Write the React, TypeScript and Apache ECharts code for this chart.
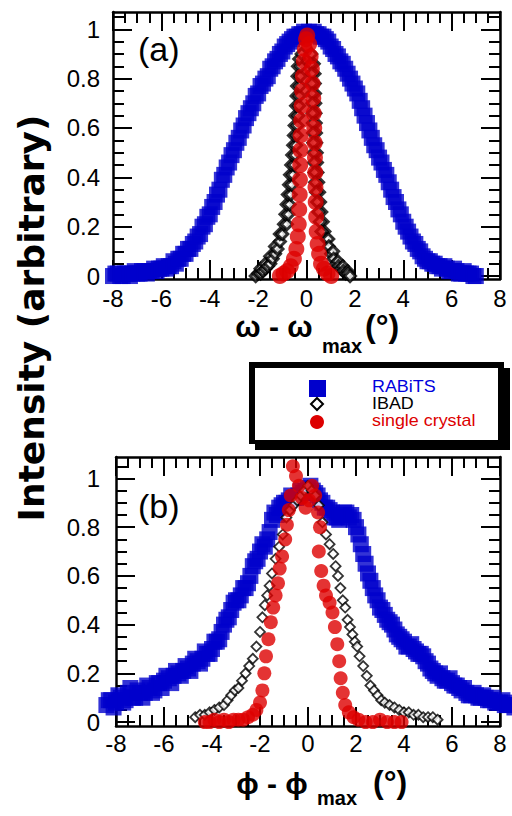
import React, { useEffect, useRef } from "react";
import * as echarts from "echarts";

// ---------- tick values ----------
const yMajorTicks = [0, 0.2, 0.4, 0.6, 0.8, 1];
const yMinorTicks = [0, 0.05, 0.1, 0.15, 0.2, 0.25, 0.3, 0.35, 0.4, 0.45, 0.5, 0.55, 0.6, 0.65, 0.7, 0.75, 0.8, 0.85, 0.9, 0.95, 1, 1.05];

// ---------- (a) omega scans ----------
const omegaRabits: [number, number][] = [
  [-8.0, 0.0], [-7.9, 0.01], [-7.8, 0.01], [-7.7, 0.0], [-7.6, 0.0], [-7.5, 0.01], [-7.4, 0.01], [-7.3, 0.0],
  [-7.2, 0.01], [-7.1, 0.02], [-7.0, 0.01], [-6.9, 0.01], [-6.8, 0.02], [-6.7, 0.02], [-6.6, 0.01], [-6.5, 0.02],
  [-6.4, 0.02], [-6.3, 0.03], [-6.2, 0.02], [-6.1, 0.03], [-6.0, 0.03], [-5.9, 0.04], [-5.8, 0.03], [-5.7, 0.04],
  [-5.6, 0.04], [-5.5, 0.06], [-5.4, 0.05], [-5.3, 0.07], [-5.2, 0.07], [-5.1, 0.09], [-5.0, 0.09], [-4.9, 0.11],
  [-4.8, 0.11], [-4.7, 0.13], [-4.6, 0.14], [-4.5, 0.16], [-4.4, 0.17], [-4.3, 0.2], [-4.2, 0.21], [-4.1, 0.24],
  [-4.0, 0.25], [-3.9, 0.28], [-3.8, 0.3], [-3.7, 0.33], [-3.6, 0.35], [-3.5, 0.39], [-3.4, 0.41], [-3.3, 0.44],
  [-3.2, 0.46], [-3.1, 0.49], [-3.0, 0.51], [-2.9, 0.54], [-2.8, 0.56], [-2.7, 0.59], [-2.6, 0.61], [-2.5, 0.64],
  [-2.4, 0.66], [-2.3, 0.68], [-2.2, 0.7], [-2.1, 0.73], [-2.0, 0.74], [-1.9, 0.77], [-1.8, 0.78], [-1.7, 0.8],
  [-1.6, 0.81], [-1.5, 0.84], [-1.4, 0.85], [-1.3, 0.87], [-1.2, 0.88], [-1.1, 0.9], [-1.0, 0.91], [-0.9, 0.93],
  [-0.8, 0.94], [-0.7, 0.95], [-0.6, 0.96], [-0.5, 0.97], [-0.4, 0.97], [-0.3, 0.98], [-0.2, 0.98], [-0.1, 0.99],
  [0.0, 0.98], [0.1, 0.99], [0.2, 0.98], [0.3, 0.99], [0.4, 0.98], [0.5, 0.98], [0.6, 0.97], [0.7, 0.97],
  [0.8, 0.96], [0.9, 0.95], [1.0, 0.93], [1.1, 0.92], [1.2, 0.9], [1.3, 0.89], [1.4, 0.87], [1.5, 0.86],
  [1.6, 0.84], [1.7, 0.82], [1.8, 0.8], [1.9, 0.78], [2.0, 0.76], [2.1, 0.74], [2.2, 0.71], [2.3, 0.68],
  [2.4, 0.65], [2.5, 0.62], [2.6, 0.59], [2.7, 0.56], [2.8, 0.53], [2.9, 0.51], [3.0, 0.48], [3.1, 0.46],
  [3.2, 0.43], [3.3, 0.41], [3.4, 0.38], [3.5, 0.35], [3.6, 0.32], [3.7, 0.3], [3.8, 0.27], [3.9, 0.25],
  [4.0, 0.22], [4.1, 0.2], [4.2, 0.18], [4.3, 0.16], [4.4, 0.14], [4.5, 0.13], [4.6, 0.11], [4.7, 0.1],
  [4.8, 0.08], [4.9, 0.07], [5.0, 0.06], [5.1, 0.06], [5.2, 0.05], [5.3, 0.05], [5.4, 0.04], [5.5, 0.04],
  [5.6, 0.03], [5.7, 0.04], [5.8, 0.03], [5.9, 0.02], [6.0, 0.02], [6.1, 0.03], [6.2, 0.02], [6.3, 0.01],
  [6.4, 0.01], [6.5, 0.02], [6.6, 0.01], [6.7, 0.01], [6.8, 0.01], [6.9, 0.0], [7.0, 0.0],
];

const omegaIbad: [number, number][] = [
  [-2.1, 0.0], [-2.0, 0.01], [-1.9, 0.01], [-1.9, 0.03], [-1.8, 0.02], [-1.7, 0.03], [-1.7, 0.05], [-1.6, 0.04],
  [-1.5, 0.05], [-1.5, 0.08], [-1.4, 0.07], [-1.3, 0.09], [-1.3, 0.12], [-1.2, 0.11], [-1.1, 0.14], [-1.1, 0.17],
  [-1.0, 0.17], [-0.93, 0.21], [-0.81, 0.21], [-0.87, 0.25], [-0.75, 0.25], [-0.82, 0.29], [-0.7, 0.29],
  [-0.77, 0.33], [-0.65, 0.33], [-0.72, 0.37], [-0.6, 0.37], [-0.68, 0.41], [-0.56, 0.41], [-0.63, 0.45],
  [-0.51, 0.45], [-0.59, 0.49], [-0.47, 0.49], [-0.55, 0.53], [-0.43, 0.53], [-0.52, 0.57], [-0.4, 0.57],
  [-0.49, 0.61], [-0.37, 0.61], [-0.46, 0.65], [-0.34, 0.65], [-0.43, 0.69], [-0.31, 0.69], [-0.41, 0.73],
  [-0.29, 0.73], [-0.39, 0.77], [-0.27, 0.77], [-0.37, 0.81], [-0.25, 0.81], [-0.35, 0.85], [-0.23, 0.85],
  [-0.3, 0.88], [-0.2, 0.9],
  [0.2, 0.9], [0.3, 0.86], [0.18, 0.86], [0.33, 0.82], [0.21, 0.82], [0.34, 0.78], [0.22, 0.78], [0.35, 0.74],
  [0.23, 0.74], [0.36, 0.7], [0.24, 0.7], [0.37, 0.66], [0.25, 0.66], [0.38, 0.62], [0.26, 0.62], [0.39, 0.58],
  [0.27, 0.58], [0.4, 0.54], [0.28, 0.54], [0.42, 0.5], [0.3, 0.5], [0.43, 0.46], [0.31, 0.46], [0.45, 0.42],
  [0.33, 0.42], [0.48, 0.38], [0.36, 0.38], [0.52, 0.34], [0.4, 0.34], [0.56, 0.3], [0.44, 0.3], [0.61, 0.26],
  [0.49, 0.26], [0.67, 0.22], [0.55, 0.22], [0.74, 0.18], [0.62, 0.18], [0.82, 0.15], [0.9, 0.15], [0.92, 0.12],
  [1.02, 0.09], [1.1, 0.1], [1.12, 0.07], [1.22, 0.05], [1.3, 0.06], [1.32, 0.04], [1.42, 0.03], [1.5, 0.04],
  [1.52, 0.02], [1.62, 0.01], [1.7, 0.02], [1.72, 0.01], [1.8, 0.0],
];

const omegaCrystal: [number, number][] = [
  [-1.1, 0.0], [-0.95, 0.01], [-0.8, 0.02], [-0.65, 0.04], [-0.52, 0.07], [-0.42, 0.11], [-0.36, 0.16], [-0.32, 0.21],
  [-0.3, 0.27], [-0.28, 0.33], [-0.27, 0.39], [-0.26, 0.45], [-0.25, 0.51], [-0.24, 0.57], [-0.22, 0.63], [-0.2, 0.69],
  [-0.18, 0.75], [-0.15, 0.81], [-0.11, 0.87], [-0.07, 0.92], [-0.02, 0.96], [0.03, 0.975],
  [0.11, 0.94], [0.17, 0.89], [0.22, 0.84], [0.25, 0.78], [0.28, 0.72], [0.3, 0.66], [0.32, 0.6], [0.34, 0.54],
  [0.35, 0.48], [0.36, 0.42], [0.37, 0.36], [0.38, 0.3], [0.4, 0.24], [0.42, 0.18], [0.46, 0.13], [0.52, 0.09],
  [0.6, 0.05], [0.72, 0.03], [0.87, 0.01], [1.02, 0.0],
];

// ---------- (b) phi scans ----------
const phiRabits: [number, number][] = [
  [-8.4, 0.07], [-8.3, 0.09], [-8.2, 0.09], [-8.1, 0.06], [-8.0, 0.08], [-7.9, 0.11], [-7.8, 0.1], [-7.7, 0.08],
  [-7.6, 0.09], [-7.5, 0.12], [-7.4, 0.14], [-7.3, 0.1], [-7.2, 0.1], [-7.1, 0.13], [-7.0, 0.12], [-6.9, 0.1],
  [-6.8, 0.12], [-6.7, 0.15], [-6.6, 0.14], [-6.5, 0.12], [-6.4, 0.13], [-6.3, 0.16], [-6.2, 0.16], [-6.1, 0.14],
  [-6.0, 0.17], [-5.9, 0.19], [-5.8, 0.18], [-5.7, 0.16], [-5.6, 0.19], [-5.5, 0.21], [-5.4, 0.2], [-5.3, 0.19],
  [-5.2, 0.21], [-5.1, 0.23], [-5.0, 0.22], [-4.9, 0.21], [-4.8, 0.24], [-4.7, 0.26], [-4.6, 0.25], [-4.5, 0.24],
  [-4.4, 0.26], [-4.3, 0.29], [-4.2, 0.28], [-4.1, 0.28], [-4.0, 0.3], [-3.9, 0.33], [-3.8, 0.33], [-3.7, 0.34],
  [-3.6, 0.37], [-3.5, 0.4], [-3.4, 0.42], [-3.3, 0.43], [-3.2, 0.46], [-3.1, 0.49], [-3.0, 0.5], [-2.9, 0.5],
  [-2.8, 0.52], [-2.7, 0.55], [-2.6, 0.55], [-2.5, 0.57], [-2.4, 0.6], [-2.3, 0.64], [-2.2, 0.66], [-2.1, 0.67],
  [-2.0, 0.7], [-1.9, 0.73], [-1.8, 0.72], [-1.7, 0.75], [-1.6, 0.78], [-1.5, 0.83], [-1.4, 0.86], [-1.3, 0.85],
  [-1.2, 0.88], [-1.1, 0.89], [-1.0, 0.9], [-0.9, 0.9], [-0.8, 0.91], [-0.7, 0.93], [-0.6, 0.92], [-0.5, 0.92],
  [-0.4, 0.93], [-0.3, 0.95], [-0.2, 0.94], [-0.1, 0.95], [0.0, 0.96], [0.1, 0.97], [0.2, 0.95], [0.3, 0.94],
  [0.4, 0.93], [0.5, 0.91], [0.6, 0.9], [0.7, 0.88], [0.8, 0.88], [0.9, 0.87], [1.0, 0.86], [1.1, 0.84],
  [1.2, 0.84], [1.3, 0.83], [1.4, 0.85], [1.5, 0.86], [1.6, 0.86], [1.7, 0.84], [1.8, 0.85], [1.9, 0.83],
  [2.0, 0.8], [2.1, 0.77], [2.2, 0.73], [2.3, 0.69], [2.4, 0.65], [2.5, 0.61], [2.6, 0.58], [2.7, 0.55],
  [2.8, 0.52], [2.9, 0.5], [3.0, 0.47], [3.1, 0.46], [3.2, 0.44], [3.3, 0.42], [3.4, 0.41], [3.5, 0.4],
  [3.6, 0.38], [3.7, 0.36], [3.8, 0.35], [3.9, 0.34], [4.0, 0.33], [4.1, 0.31], [4.2, 0.31], [4.3, 0.32],
  [4.4, 0.3], [4.5, 0.29], [4.6, 0.28], [4.7, 0.28], [4.8, 0.27], [4.9, 0.25], [5.0, 0.24], [5.1, 0.22],
  [5.2, 0.21], [5.3, 0.2], [5.4, 0.19], [5.5, 0.2], [5.6, 0.18], [5.7, 0.17], [5.8, 0.17], [5.9, 0.18],
  [6.0, 0.16], [6.1, 0.15], [6.2, 0.15], [6.3, 0.14], [6.4, 0.13], [6.5, 0.14], [6.6, 0.12], [6.7, 0.11],
  [6.8, 0.11], [6.9, 0.12], [7.0, 0.11], [7.1, 0.1], [7.2, 0.1], [7.3, 0.11], [7.4, 0.1], [7.5, 0.09],
  [7.6, 0.09], [7.7, 0.1], [7.8, 0.08], [7.9, 0.08], [8.0, 0.08], [8.1, 0.09], [8.2, 0.07], [8.3, 0.07],
  [8.4, 0.07], [8.5, 0.08], [8.6, 0.06],
];

const phiIbad: [number, number][] = [
  [-4.7, 0.02], [-4.5, 0.03], [-4.3, 0.03], [-4.1, 0.04], [-3.9, 0.05], [-3.7, 0.06], [-3.5, 0.07], [-3.35, 0.09],
  [-3.2, 0.11], [-3.05, 0.13], [-2.9, 0.14], [-2.75, 0.17], [-2.6, 0.2], [-2.45, 0.23], [-2.3, 0.26], [-2.15, 0.31],
  [-2.0, 0.37], [-1.9, 0.43], [-1.8, 0.48], [-1.7, 0.52], [-1.6, 0.56], [-1.5, 0.61], [-1.35, 0.67], [-1.2, 0.72],
  [-1.05, 0.77], [-0.9, 0.84], [-0.75, 0.87], [-0.6, 0.89], [-0.45, 0.91], [-0.3, 0.93], [-0.15, 0.95], [0.0, 0.97],
  [0.15, 0.95], [0.3, 0.93], [0.45, 0.89], [0.6, 0.82], [0.75, 0.77], [0.9, 0.73], [1.05, 0.69], [1.15, 0.64],
  [1.25, 0.6], [1.35, 0.55], [1.45, 0.5], [1.55, 0.47], [1.65, 0.42], [1.75, 0.39], [1.85, 0.36], [1.95, 0.33],
  [2.05, 0.31], [2.15, 0.27], [2.3, 0.23], [2.45, 0.19], [2.6, 0.15], [2.75, 0.13], [2.9, 0.11], [3.05, 0.09],
  [3.2, 0.08], [3.4, 0.07], [3.6, 0.06], [3.8, 0.05], [4.0, 0.04], [4.2, 0.04], [4.4, 0.03], [4.6, 0.03],
  [4.8, 0.02], [5.0, 0.02], [5.2, 0.02], [5.4, 0.01],
];

const phiCrystal: [number, number][] = [
  [-4.3, 0.0], [-4.1, 0.0], [-3.9, 0.01], [-3.7, 0.0], [-3.5, 0.01], [-3.3, 0.0], [-3.1, 0.01], [-2.9, 0.01],
  [-2.7, 0.01], [-2.5, 0.02], [-2.3, 0.03], [-2.15, 0.05], [-2.0, 0.08], [-1.9, 0.13], [-1.82, 0.2], [-1.75, 0.27],
  [-1.65, 0.34], [-1.55, 0.41], [-1.45, 0.47], [-1.35, 0.52], [-1.25, 0.57], [-1.18, 0.63], [-1.08, 0.68], [-0.95, 0.75],
  [-0.88, 0.81], [-0.8, 0.87], [-0.72, 0.93], [-0.63, 1.05], [-0.5, 1.01], [-0.38, 0.97], [-0.25, 0.92], [-0.1, 0.88],
  [0.05, 0.91], [0.17, 0.97], [0.3, 0.93], [0.42, 0.86], [0.5, 0.8], [0.45, 0.7], [0.55, 0.62], [0.65, 0.56],
  [0.75, 0.52], [0.9, 0.49], [1.02, 0.45], [1.12, 0.39], [1.22, 0.32], [1.3, 0.25], [1.36, 0.18], [1.45, 0.12],
  [1.55, 0.07], [1.7, 0.04], [1.9, 0.02], [2.1, 0.01], [2.4, 0.0], [2.7, 0.0], [3.0, 0.01], [3.3, 0.0],
  [3.6, 0.0], [3.9, 0.0],
];

const seriesNames = ["RABiTS", "IBAD", "single crystal"];
const BLUE = "#0000cc";
const RED = "#dd0000";
const FONT = "Liberation Sans";

function xAxes(gridIndex: number, labelMargin: number) {
  const base = {
    type: "value" as const,
    gridIndex,
    min: -8,
    max: 8,
    interval: 2,
    splitLine: { show: false },
    axisLine: { show: true, onZero: false, lineStyle: { color: "#000", width: 2.5 } },
    axisTick: { show: true, inside: true, length: 19, lineStyle: { color: "#000", width: 2 } },
    minorTick: { show: true, splitNumber: 4, length: 11, lineStyle: { color: "#000", width: 2 } },
  };
  return [
    { ...base, position: "bottom", axisLabel: { show: true, fontSize: 24, color: "#000", fontFamily: FONT, margin: labelMargin } },
    { ...base, position: "top", axisLabel: { show: false } },
  ];
}

function yAxes(gridIndex: number, min: number, max: number, labelMargin: number) {
  const base = {
    type: "value" as const,
    gridIndex,
    min,
    max,
    splitLine: { show: false },
  };
  const line = { show: true, onZero: false, lineStyle: { color: "#000", width: 2.5 } };
  const noLine = { show: false, onZero: false };
  const major = { show: true, inside: true, length: 19, customValues: yMajorTicks, lineStyle: { color: "#000", width: 2 } };
  const minor = { show: true, inside: true, length: 11, customValues: yMinorTicks, lineStyle: { color: "#000", width: 2 } };
  return [
    { ...base, position: "left", axisLine: line, axisTick: major,
      axisLabel: { show: true, customValues: yMajorTicks, fontSize: 24, color: "#000", fontFamily: FONT, margin: labelMargin } },
    { ...base, position: "left", axisLine: noLine, axisTick: minor, axisLabel: { show: false } },
    { ...base, position: "right", axisLine: line, axisTick: major, axisLabel: { show: false } },
    { ...base, position: "right", axisLine: noLine, axisTick: minor, axisLabel: { show: false } },
  ];
}

function scatter(name: string, data: [number, number][], xi: number, yi: number, kind: number, size: number, border = 1.5) {
  const common = { type: "scatter" as const, name, data, xAxisIndex: xi, yAxisIndex: yi, clip: false, silent: true, symbolSize: size };
  if (kind === 0) return { ...common, symbol: "rect", itemStyle: { color: BLUE } };
  if (kind === 1)
    return { ...common, symbol: "diamond", itemStyle: { color: "#fff", borderColor: "#000", borderWidth: border } };
  return { ...common, symbol: "circle", itemStyle: { color: RED } };
}

const titleFont = `bold 30px '${FONT}'`;
const legendFont = `16px '${FONT}'`;

const option: any = {
  animation: false,
  backgroundColor: "#fff",
  grid: [
    { left: 113, top: 12, width: 387, height: 267 },
    { left: 116, top: 457, width: 384, height: 269 },
  ],
  xAxis: [...xAxes(0, 7), ...xAxes(1, 5)],
  yAxis: [...yAxes(0, -0.012, 1.07, 13), ...yAxes(1, -0.016, 1.088, 16)],
  series: [
    scatter(seriesNames[0], omegaRabits, 0, 0, 0, 16),
    scatter(seriesNames[1], omegaIbad, 0, 0, 1, 11, 3),
    scatter(seriesNames[2], omegaCrystal, 0, 0, 2, 16),
    scatter(seriesNames[0], phiRabits, 2, 4, 0, 16),
    scatter(seriesNames[1], phiIbad, 2, 4, 1, 10, 1.8),
    scatter(seriesNames[2], phiCrystal, 2, 4, 2, 14),
  ],
  graphic: [
    // y title
    { type: "text", x: 31, y: 318, rotation: Math.PI / 2,
      style: { text: "Intensity (arbitrary)", font: "bold 36px 'DejaVu Sans'", fill: "#000", align: "center", verticalAlign: "middle" } },
    // panel labels
    { type: "text", x: 138, y: 49, style: { text: "(a)", font: `34px '${FONT}'`, fill: "#000", align: "left", verticalAlign: "middle" } },
    { type: "text", x: 138, y: 506, style: { text: "(b)", font: `34px '${FONT}'`, fill: "#000", align: "left", verticalAlign: "middle" } },
    // x title (a)
    { type: "text", x: 274, y: 326, style: { text: "ω - ω", font: titleFont, fill: "#000", align: "center", verticalAlign: "middle" } },
    { type: "text", x: 322, y: 346, style: { text: "max", font: `bold 20px '${FONT}'`, fill: "#000", align: "left", verticalAlign: "middle" } },
    { type: "text", x: 365, y: 326, style: { text: "(°)", font: `bold 32px '${FONT}'`, fill: "#000", align: "left", verticalAlign: "middle" } },
    // x title (b)
    { type: "text", x: 272, y: 783, style: { text: "ϕ - ϕ", font: titleFont, fill: "#000", align: "center", verticalAlign: "middle" } },
    { type: "text", x: 317, y: 798, style: { text: "max", font: `bold 20px '${FONT}'`, fill: "#000", align: "left", verticalAlign: "middle" } },
    { type: "text", x: 373, y: 782, style: { text: "(°)", font: `bold 32px '${FONT}'`, fill: "#000", align: "left", verticalAlign: "middle" } },
    // legend box
    { type: "rect", shape: { x: 255, y: 368, width: 255, height: 82 }, style: { fill: "#000" } },
    { type: "rect", shape: { x: 249, y: 362, width: 255, height: 82 }, style: { fill: "#000" } },
    { type: "rect", shape: { x: 255, y: 368, width: 243, height: 72 }, style: { fill: "#fff" } },
    { type: "rect", shape: { x: 309, y: 380, width: 17, height: 17 }, style: { fill: BLUE } },
    { type: "polygon", shape: { points: [[317, 398], [323, 404], [317, 410], [311, 404]] }, style: { fill: "#fff", stroke: "#000", lineWidth: 2 } },
    { type: "circle", shape: { cx: 317, cy: 422, r: 7 }, style: { fill: RED } },
    { type: "text", x: 372, y: 387, scaleX: 1.12, style: { text: seriesNames[0], font: legendFont, fill: "#0000dd", align: "left", verticalAlign: "middle" } },
    { type: "text", x: 372, y: 404, scaleX: 1.12, style: { text: seriesNames[1], font: legendFont, fill: "#000", align: "left", verticalAlign: "middle" } },
    { type: "text", x: 372, y: 421, scaleX: 1.12, style: { text: seriesNames[2], font: legendFont, fill: RED, align: "left", verticalAlign: "middle" } },
  ],
};

export default function App() {
  const ref = useRef<HTMLDivElement>(null);
  useEffect(() => {
    if (!ref.current) return;
    const chart = echarts.init(ref.current, null, { renderer: "svg", width: 512, height: 816 });
    chart.setOption(option);
    return () => chart.dispose();
  }, []);
  return (
    <div
      ref={ref}
      style={{ position: "fixed", left: 0, top: 0, width: 512, height: 816, background: "#fff" }}
    />
  );
}
